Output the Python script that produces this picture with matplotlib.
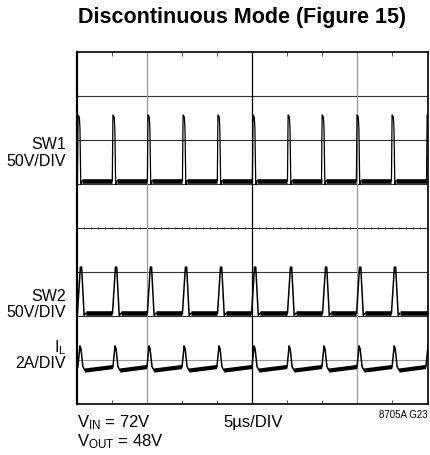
import numpy as np
import matplotlib as mpl
import matplotlib.pyplot as plt
from matplotlib import font_manager

names = {f.name for f in font_manager.fontManager.ttflist}
narrow = 'Liberation Sans Narrow' if 'Liberation Sans Narrow' in names else 'Liberation Sans'
mpl.rcParams['font.family'] = [narrow, 'DejaVu Sans']
mpl.rcParams['mathtext.default'] = 'regular'

# time axis in us (5us/DIV, one division = 105 px in the reference)
t_max = 16.71
major_t = [3.33, 8.33, 13.33]
major_col = ['#999999', 'black', '#999999']
minor_t = [1.67, 5.0, 6.67, 10.0, 11.67, 15.0]

# pulse times (us)
sw1_t = [0.05, 1.71, 3.38, 5.05, 6.71, 8.38, 10.05, 11.67, 13.33, 15.0, 16.67]
sw2_t = [0.19, 1.86, 3.52, 5.19, 6.86, 8.48, 10.19, 11.86, 13.48, 15.14]
il_t = [0.14, 1.81, 3.43, 5.10, 6.76, 8.43, 10.10, 11.76, 13.43, 15.10, 16.71]

# levels in divisions (0 = bottom of screen, 8 = top)
sw1_base, sw2_base = 5.07, 2.06
il_lo, il_hi = 0.76, 0.84

# pulse shapes: offset (us) and level above baseline (div)
sw1_dt = [-0.03, 0.0, 0.06, 0.09, 0.13, 0.18]
sw1_dv = [0.0, 1.5, 1.45, 1.2, -0.08, 0.0]
sw2_dt = [-0.17, -0.03, 0.03, 0.15, 0.22]
sw2_dv = [0.0, 1.05, 1.05, -0.05, 0.0]
il_dt = [-0.10, 0.0, 0.05, 0.14, 0.24]
il_v = [0.84, 1.32, 1.25, 0.85, 0.76]


def trace(times, dt, dv, base):
    xs, ys = [], []
    for t in times:
        xs += [t + d for d in dt]
        ys += [base + v for v in dv]
    return xs, ys


fig = plt.figure(figsize=(4.30, 4.56), dpi=100, facecolor='w')
ax = fig.add_axes([77/430, 51/456, 351/430, 352/456])
ax.set_xlim(0, t_max)
ax.set_ylim(0, 8)

# graticule
for y in range(1, 8):
    if y == 4:
        continue
    ax.axhline(y, color='#999999' if y == 1 else '#333333', lw=0.8, zorder=1)
ax.axhline(4, color='black', lw=0.6, zorder=1)
dots = np.arange(0.33, t_max, 0.333)
ax.plot(dots, [4] * len(dots), '|', color='#333333', ms=1.6, mew=0.6, zorder=1)
for x, c in zip(major_t, major_col):
    ax.axvline(x, color=c, lw=0.9, zorder=1)
ax.set_xticks(minor_t)
ax.set_yticks([])
ax.tick_params(axis='x', direction='in', length=3, width=0.7, top=True,
               labelbottom=False, color='#555555')
for s in ax.spines.values():
    s.set_linewidth(1.2)
ax.spines['left'].set_linewidth(1.6)

# SW1
x1, y1 = trace(sw1_t, sw1_dt, sw1_dv, sw1_base)
ax.plot(x1, y1, color='black', lw=0.9, zorder=3)
for a, b in zip(sw1_t[:-1], sw1_t[1:]):
    ax.plot([a + 0.2, b - 0.03], [sw1_base, sw1_base], color='black', lw=3.3,
            solid_capstyle='butt', zorder=3)
ax.plot([0, sw1_t[0] - 0.03], [sw1_base] * 2, color='black', lw=3.3, zorder=3)

# SW2
x2, y2 = trace(sw2_t, sw2_dt, sw2_dv, sw2_base)
ax.plot(x2, y2, color='black', lw=1.1, zorder=3)
for a, b in zip(sw2_t, sw2_t[1:] + [t_max + 0.2]):
    ax.plot([a + 0.25, b - 0.2], [sw2_base, sw2_base], color='black', lw=3.3,
            solid_capstyle='butt', zorder=3)

# IL
x3, y3 = trace(il_t, il_dt, [v - il_hi for v in il_v], il_hi)
ax.plot(x3, y3, color='black', lw=1.1, zorder=3)
for a, b in zip(il_t[:-1], il_t[1:]):
    ax.plot([a + 0.24, b - 0.1], [il_lo, il_hi], color='black', lw=3.0,
            solid_capstyle='butt', zorder=3)

# text
fig.text(0.564, 1 - 17/456, 'Discontinuous Mode (Figure 15)', ha='center',
         va='center', fontsize=15.5, fontweight='bold')
lx = 66/430
for txt, y in [('SW1', 145), ('50V/DIV', 162), ('SW2', 297), ('50V/DIV', 313),
               ('I$_L$', 348), ('2A/DIV', 364)]:
    fig.text(lx, 1 - y/456, txt, ha='right', va='center', fontsize=11.5)
fig.text(77/430, 1 - 423/456, 'V$_{IN}$ = 72V', ha='left', va='center', fontsize=12)
fig.text(77/430, 1 - 442/456, 'V$_{OUT}$ = 48V', ha='left', va='center', fontsize=12)
fig.text(223/430, 1 - 423/456, '5µs/DIV', ha='left', va='center', fontsize=12)
fig.text(428/430, 1 - 415/456, '8705A G23', ha='right', va='center', fontsize=7)

fig.savefig('out.png', dpi=100, facecolor='w')
